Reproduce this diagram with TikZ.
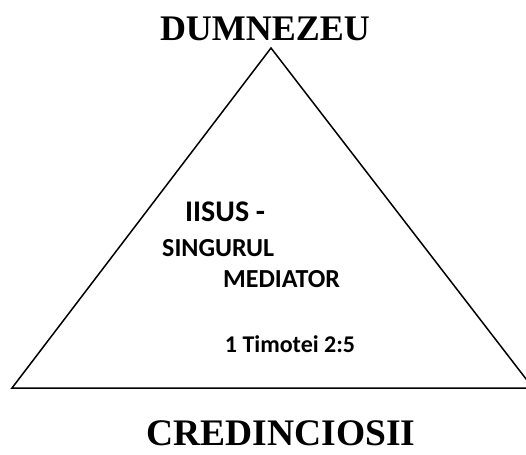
\documentclass[tikz,border=0pt]{standalone}
\usepackage{fontspec}
\setmainfont{Liberation Serif}
\newfontfamily\calfont{Carlito}
\begin{document}
\begin{tikzpicture}[x=1pt,y=-1pt,
  title/.style={font=\fontsize{36}{40}\selectfont\bfseries, inner sep=0pt},
  inner/.style={font=\calfont\bfseries, inner sep=0pt},
  edge/.style={line width=1.5pt, line join=miter}]
\useasboundingbox (0,0) rectangle (526,454);
\clip (0,0) rectangle (526,454);
\coordinate (apex) at (271,48);
\coordinate (bl) at (12,388);
\coordinate (br) at (533,388);
\draw[edge] (apex) -- (bl) -- (br) -- cycle;
\node[title, anchor=base] (god) at (265,41) {DUMNEZEU};
\node[title, font=\fontsize{37.5}{42}\selectfont\bfseries, anchor=base] (bel) at (281,445.5) {CREDINCIOSII};
\node[inner, font=\calfont\bfseries\fontsize{30}{34}\selectfont, anchor=base west] (iisus) at (185,221) {IISUS -};
\node[inner, font=\calfont\bfseries\fontsize{26}{30}\selectfont, anchor=base west] (sing) at (162,256) {SINGURUL};
\node[inner, font=\calfont\bfseries\fontsize{26}{30}\selectfont, anchor=base west] (med) at (223,287) {MEDIATOR};
\node[inner, font=\calfont\bfseries\fontsize{24}{28}\selectfont, anchor=base] (tim) at (290,352) {1 Timotei 2:5};
\end{tikzpicture}
\end{document}
